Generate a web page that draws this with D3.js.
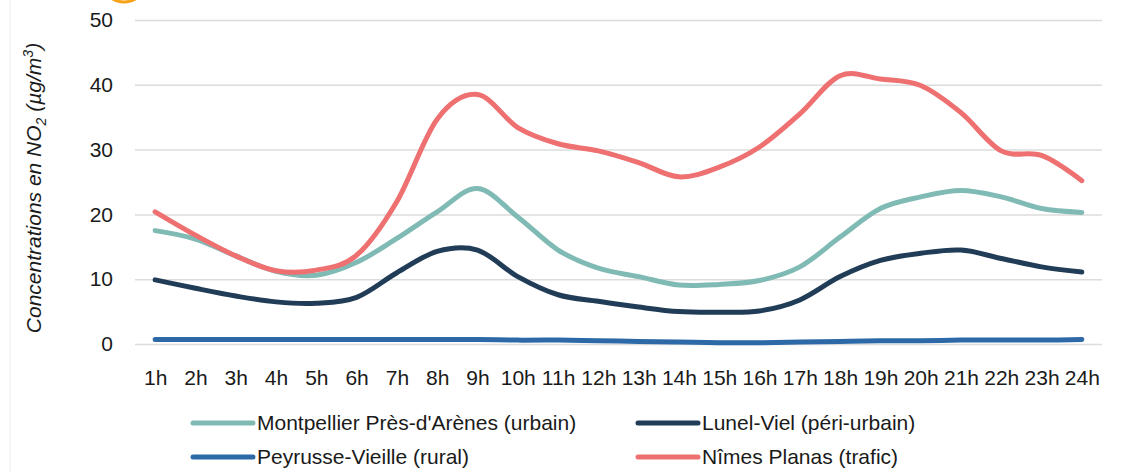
<!DOCTYPE html>
<html>
<head>
<meta charset="utf-8">
<script src="https://cdn.jsdelivr.net/npm/d3@7"></script>
<style>
  body { margin: 0; background: #fff; }
  svg { display: block; font-family: "Liberation Sans", Arial, sans-serif; }
</style>
</head>
<body>
<div id="chart"></div>
<script>
// hours of the day
var hours = ["1h","2h","3h","4h","5h","6h","7h","8h","9h","10h","11h","12h",
             "13h","14h","15h","16h","17h","18h","19h","20h","21h","22h","23h","24h"];
var yTicks = [0, 10, 20, 30, 40, 50];

// NO2 concentrations (µg/m³)
var montpellier = [17.5,16.2,13.6,11.2,10.6,12.6,16.3,20.4,24.0,19.6,14.5,11.7,
                   10.4,9.1,9.2,9.8,11.9,16.5,20.9,22.7,23.7,22.7,20.9,20.3];
var lunel       = [9.9,8.6,7.4,6.5,6.3,7.2,11.0,14.3,14.5,10.4,7.6,6.6,
                   5.7,5.0,4.9,5.1,6.8,10.4,12.9,14.0,14.5,13.2,11.9,11.1];
var peyrusse    = [0.7,0.7,0.7,0.7,0.7,0.7,0.7,0.7,0.7,0.6,0.6,0.5,
                   0.4,0.3,0.2,0.2,0.3,0.4,0.5,0.5,0.6,0.6,0.6,0.7];
var nimes       = [20.4,16.8,13.6,11.3,11.4,13.7,22.0,34.7,38.5,33.4,30.9,29.8,
                   28.0,25.8,27.3,30.4,35.5,41.4,40.9,39.9,35.7,29.8,29.1,25.2];

var seriesNames = ["Montpellier Près-d'Arènes (urbain)", "Lunel-Viel (péri-urbain)",
                   "Peyrusse-Vieille (rural)", "Nîmes Planas (trafic)"];
var colors = ["#80bab5", "#213c56", "#2d69a6", "#ee7070"];
var series = [montpellier, lunel, peyrusse, nimes];

var W = 1122, H = 472;
var plotL = 135, plotR = 1102, plotT = 20, plotB = 344;

var svg = d3.select("#chart").append("svg")
    .attr("width", W).attr("height", H);

// faint frame line on the left + cut-off orange marker at the top
svg.append("line").attr("x1", 10).attr("x2", 10).attr("y1", 0).attr("y2", H)
    .attr("stroke", "#ececec").attr("stroke-width", 1);
svg.append("ellipse").attr("cx", 124).attr("cy", -10).attr("rx", 17).attr("ry", 12)
    .attr("fill", "none").attr("stroke", "#f5a31a").attr("stroke-width", 3);

var x = d3.scalePoint().domain(hours).range([plotL, plotR]).padding(0.5);
var y = d3.scaleLinear().domain([0, 50]).range([plotB, plotT]);

var yAxis = svg.append("g")
    .attr("transform", "translate(" + plotL + ",0)")
    .call(d3.axisLeft(y).tickValues(yTicks).tickSize(-(plotR - plotL)).tickPadding(22));
yAxis.select(".domain").remove();
yAxis.selectAll(".tick line").attr("stroke", "#dcdcdc").attr("stroke-width", 1.5);
yAxis.selectAll(".tick text")
    .attr("fill", "#1a1a1a").style("font-size", "21px")
    .style("font-family", "'Liberation Sans', Arial, sans-serif");

var xAxis = svg.append("g")
    .attr("transform", "translate(0," + plotB + ")")
    .call(d3.axisBottom(x).tickSize(0).tickPadding(26));
xAxis.select(".domain").remove();
xAxis.selectAll(".tick text")
    .attr("fill", "#1a1a1a").style("font-size", "21px")
    .style("font-family", "'Liberation Sans', Arial, sans-serif");

// y axis title
var yt = svg.append("text")
    .attr("transform", "translate(41,188) rotate(-90)")
    .attr("text-anchor", "middle")
    .style("font-size", "21px").style("font-style", "italic")
    .attr("fill", "#1a1a1a");
yt.append("tspan").text("Concentrations en NO");
yt.append("tspan").text("2").style("font-size", "14px").attr("dy", 5);
yt.append("tspan").text(" (µg/m").attr("dy", -5);
yt.append("tspan").text("3").style("font-size", "14px").attr("dy", -8);
yt.append("tspan").text(")").attr("dy", 8);

var line = d3.line()
    .x(function (d, i) { return x(hours[i]); })
    .y(function (d) { return y(d); })
    .curve(d3.curveCatmullRom.alpha(0));

svg.append("g").selectAll("path")
    .data(series)
    .enter()
    .append("path")
    .attr("d", line)
    .attr("fill", "none")
    .attr("stroke", function (d, i) { return colors[i]; })
    .attr("stroke-width", 5)
    .attr("stroke-linecap", "round")
    .attr("stroke-linejoin", "round");

// legend, two columns
var legX = [193, 638], legY = [423, 457];
var leg = svg.append("g").selectAll("g")
    .data(seriesNames)
    .enter()
    .append("g")
    .attr("transform", function (d, i) {
        return "translate(" + legX[i % 2] + "," + legY[Math.floor(i / 2)] + ")";
    });
leg.append("line")
    .attr("x1", 0).attr("x2", 60)
    .attr("stroke", function (d, i) { return colors[i]; })
    .attr("stroke-width", 5).attr("stroke-linecap", "round");
leg.append("text")
    .attr("x", 64).attr("dy", "0.35em")
    .style("font-size", "21px").attr("fill", "#1a1a1a")
    .text(function (d) { return d; });
</script>
</body>
</html>
